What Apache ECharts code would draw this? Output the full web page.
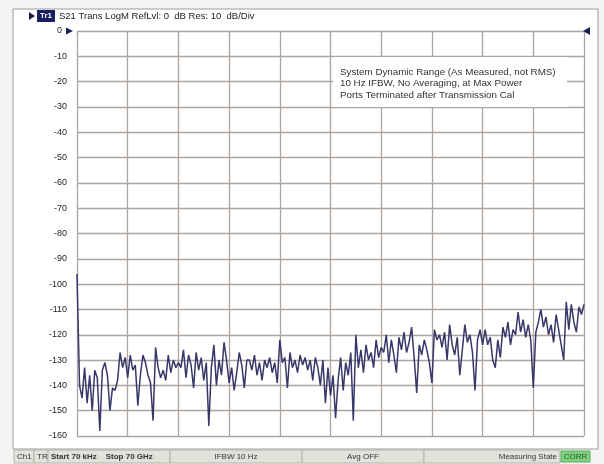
<!DOCTYPE html>
<html>
<head>
<meta charset="utf-8">
<script src="https://cdn.jsdelivr.net/npm/echarts@6/dist/echarts.min.js"></script>
<style>
  html, body { margin: 0; padding: 0; background: #f3f3f1; }
  #chart { width: 604px; height: 464px; }
</style>
</head>
<body>
<div id="chart"></div>
<script>
// S21 trace, dB, 201 pts from 70 kHz to 70 GHz
const s21Trace = [
  -96, -140, -145, -133, -147, -136, -150, -134, -137, -158,
  -134, -131, -136, -150, -141, -142, -138, -127, -133, -129,
  -137, -128, -134, -132, -148, -136, -128, -131, -136, -139,
  -154, -125, -133, -137, -134, -138, -128, -135, -130, -133,
  -131, -133, -126, -137, -128, -132, -141, -127, -134, -129,
  -138, -131, -156, -133, -124, -140, -130, -136, -123, -130,
  -139, -133, -142, -135, -127, -132, -141, -130, -130, -134,
  -128, -136, -131, -138, -130, -133, -129, -135, -131, -139,
  -122, -131, -129, -141, -127, -133, -130, -135, -128, -132,
  -129, -134, -130, -138, -129, -133, -140, -130, -147, -133,
  -144, -136, -153, -138, -129, -142, -131, -136, -127, -154,
  -120, -133, -126, -135, -124, -130, -127, -133, -122, -129,
  -125, -127, -120, -131, -122, -128, -135, -121, -126, -119,
  -127, -123, -117, -129, -143, -124, -128, -122, -126, -131,
  -139, -118, -122, -120, -125, -119, -130, -116, -124, -128,
  -121, -136, -126, -116, -123, -120, -127, -142, -122, -118,
  -124, -118, -124, -121, -130, -133, -122, -129, -117, -121,
  -115, -124, -118, -120, -111, -119, -114, -121, -116, -122,
  -141, -119, -115, -110, -117, -113, -120, -116, -123, -112,
  -118, -124, -130, -107, -118, -108, -115, -119, -109, -112,
  -108
]
const yMin = -160
const yMax = 0
const yStep = 10
const annotation = [
  'System Dynamic Range (As Measured, not RMS)',
  '10 Hz IFBW, No Averaging, at Max Power',
  'Ports Terminated after Transmission Cal'
]

let points = []
for (let i = 0; i < s21Trace.length; i++) {
  points.push(String(i))
}

let chart = echarts.init(document.getElementById('chart'))
const font = '"Liberation Sans", Arial, sans-serif'
const gridColor = '#aca59f'

// status bar cells
const barY = 450
const barH = 13
let statusCells = [
  { x: 14, w: 20, text: 'Ch1' },
  { x: 34, w: 14, text: 'TR' },
  { x: 48, w: 122, text: 'Start 70 kHz    Stop 70 GHz', bold: true },
  { x: 170, w: 132, text: 'IFBW 10 Hz', center: true },
  { x: 302, w: 122, text: 'Avg OFF', center: true },
  { x: 424, w: 136, text: 'Measuring State', right: true },
]
let graphics = []
graphics.push({
  type: 'rect', z: 0, silent: true,
  shape: { x: 13, y: 9, width: 585, height: 440 },
  style: { fill: '#fff', stroke: '#9c9c9c', lineWidth: 1 }
})
statusCells.forEach(c => {
  graphics.push({
    type: 'rect', z: 1, silent: true,
    shape: { x: c.x, y: barY, width: c.w, height: barH },
    style: { fill: '#e2e2da', stroke: '#b4b4ac', lineWidth: 1 }
  })
  graphics.push({
    type: 'text', z: 2, silent: true,
    x: c.center ? c.x + c.w / 2 : (c.right ? c.x + c.w - 3 : c.x + 3),
    y: barY + barH / 2,
    style: {
      text: c.text, font: (c.bold ? 'bold ' : '') + '8px ' + font,
      fill: '#333', align: c.center ? 'center' : (c.right ? 'right' : 'left'),
      verticalAlign: 'middle'
    }
  })
})
graphics.push({
  type: 'rect', z: 2, silent: true,
  shape: { x: 561, y: barY + 1, width: 29, height: barH - 2 },
  style: { fill: '#7fd07f', stroke: '#5fb05f', lineWidth: 1 }
})
graphics.push({
  type: 'text', z: 3, silent: true, x: 575.5, y: barY + barH / 2,
  style: { text: 'CORR', font: '8px ' + font, fill: '#1f5a1f', align: 'center', verticalAlign: 'middle' }
})

// trace header
graphics.push({
  type: 'polygon', z: 2, silent: true,
  shape: { points: [[29, 12], [35, 16], [29, 20]] },
  style: { fill: '#1b1f4e' }
})
graphics.push({
  type: 'rect', z: 2, silent: true,
  shape: { x: 37, y: 10, width: 18, height: 12 },
  style: { fill: '#1b1f5e' }
})
graphics.push({
  type: 'text', z: 3, silent: true, x: 46, y: 16,
  style: { text: 'Tr1', font: 'bold 8px ' + font, fill: '#fff', align: 'center', verticalAlign: 'middle' }
})
graphics.push({
  type: 'text', z: 3, silent: true, x: 59, y: 16,
  style: { text: 'S21 Trans LogM RefLvl: 0  dB Res: 10  dB/Div', font: '9.5px ' + font, fill: '#222', verticalAlign: 'middle' }
})
// reference markers
graphics.push({
  type: 'polygon', z: 5, silent: true,
  shape: { points: [[66, 27.5], [73, 31], [66, 34.5]] },
  style: { fill: '#1b1f4e' }
})
graphics.push({
  type: 'polygon', z: 5, silent: true,
  shape: { points: [[590, 27], [583, 31], [590, 35]] },
  style: { fill: '#1b1f4e' }
})
// note box
graphics.push({
  type: 'rect', z: 5, silent: true,
  shape: { x: 333, y: 57, width: 234, height: 50 },
  style: { fill: '#fff' }
})
annotation.forEach((line, i) => {
  graphics.push({
    type: 'text', z: 6, silent: true, x: 340, y: 72 + i * 11.5,
    style: { text: line, font: '9.8px ' + font, fill: '#333', verticalAlign: 'middle' }
  })
})

let option = {
  backgroundColor: '#f3f3f1',
  animation: false,
  grid: {
    left: 77,
    right: 20,
    top: 31,
    bottom: 28,
    show: true,
    backgroundColor: 'transparent',
    borderColor: '#7d7772',
    borderWidth: 1.2
  },
  xAxis: {
    type: 'category',
    data: points,
    boundaryGap: false,
    axisLabel: { show: false },
    axisTick: { show: false },
    axisLine: { show: false },
    splitLine: {
      show: true,
      interval: 19,
      lineStyle: { color: gridColor, width: 1.3 }
    }
  },
  yAxis: {
    type: 'value',
    min: yMin,
    max: yMax,
    interval: yStep,
    axisLine: { show: false },
    axisTick: { show: false },
    axisLabel: {
      margin: 10,
      fontFamily: font,
      fontSize: 9,
      color: '#222',
      formatter: v => v === 0 ? '0  ' : String(v)
    },
    splitLine: {
      lineStyle: { color: gridColor, width: 1.3 }
    }
  },
  graphic: graphics,
  series: [
    {
      type: 'line',
      data: s21Trace,
      showSymbol: false,
      symbol: 'none',
      lineStyle: { color: '#37376a', width: 1.5 },
      z: 4
    }
  ]
}
chart.setOption(option)
</script>
</body>
</html>
